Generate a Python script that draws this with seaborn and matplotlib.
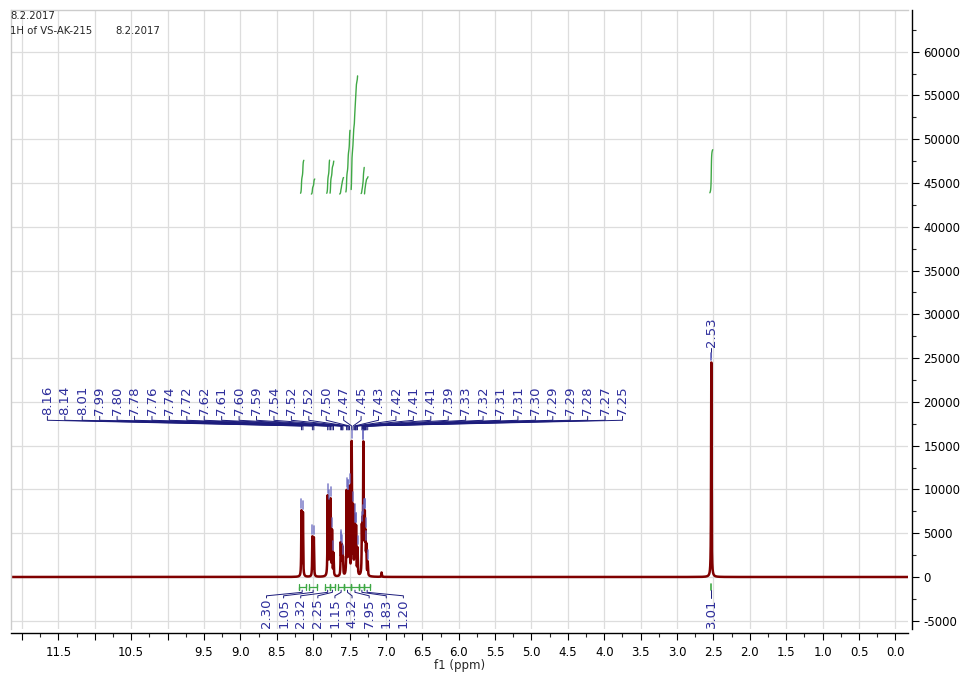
import numpy as np
import pandas as pd
import seaborn as sns
import matplotlib.pyplot as plt
from matplotlib.ticker import MultipleLocator, FuncFormatter

# picked peaks (ppm) and their approx heights
peak_ppm = [8.16, 8.14, 8.01, 7.99, 7.80, 7.78, 7.76, 7.74, 7.72,
            7.62, 7.61, 7.60, 7.59, 7.54, 7.52, 7.52, 7.50, 7.47, 7.45,
            7.43, 7.42, 7.41, 7.41, 7.39, 7.33, 7.32, 7.31, 7.31, 7.30,
            7.29, 7.29, 7.28, 7.27, 7.25]
peak_height = [7400, 7200, 4500, 4400, 9000, 8000, 8500, 5000, 2500,
               3500, 3000, 2800, 1800, 9500, 4500, 4500, 9800, 15000, 7500,
               6000, 4500, 2500, 2500, 3000, 5000, 4500, 7000, 7000, 5000,
               3000, 3000, 4000, 3000, 1500]
solvent_ppm = 2.53
solvent_height = 24500
extra_ppm = [7.06]
extra_height = [500]

# integration regions (ppm from, ppm to) and integral values
int_start = [8.20, 8.05, 7.83, 7.77, 7.66, 7.57, 7.485, 7.365, 7.295]
int_end = [8.10, 7.95, 7.77, 7.70, 7.57, 7.485, 7.365, 7.295, 7.22]
int_value = [2.30, 1.05, 2.32, 2.25, 1.15, 4.32, 7.95, 1.83, 1.20]
solv_int = (2.60, 2.46, 3.01)

blue = '#2e2e9c'
navy = '#1c1c7c'
green = '#3fa845'
red = '#800000'

sns.set_style("white")
plt.rcParams['font.family'] = ['DejaVu Sans']

# build the spectrum from lorentzian lines
ppm = np.arange(12.3, -0.4, -0.0005)
w = 0.0035


def lor(x, p, h, w=w):
    return h / (1 + ((x - p) / w) ** 2)


spec = np.zeros_like(ppm)
for p, h in zip(peak_ppm + extra_ppm + [solvent_ppm], peak_height + extra_height + [solvent_height]):
    spec += lor(ppm, p, h)

df = pd.DataFrame({'ppm': ppm, 'intensity': spec})

fig = plt.figure(figsize=(9.62, 6.76), dpi=100)
ax = fig.add_axes([11 / 962, 1 - 629 / 676, 897 / 962, 619 / 676])

sns.lineplot(data=df, x='ppm', y='intensity', color=red, lw=1.8, ax=ax,
             estimator=None, sort=False)

ax.set_xlim(12.15, -0.172)
ax.set_ylim(-5940, 64760)

# integral curves (only the rising part is drawn)
int_base = 43660
int_scale = 1782
for a, b, v in list(zip(int_start, int_end, int_value)) + [solv_int]:
    m = (ppm <= a) & (ppm >= b)
    cum = np.cumsum(spec[m])
    frac = cum / cum[-1]
    keep = (frac > 0.04) & (frac < 0.96)
    ax.plot(ppm[m][keep], frac[keep] * v * int_scale + int_base, color=green, lw=1.0)

# peak labels with fan lines
label_x = np.linspace(11.65, 3.75, len(peak_ppm))
for lx, p in zip(label_x, peak_ppm):
    ax.text(lx, 18450, f"{p:.2f}", rotation=90, ha='center', va='bottom',
            color=blue, fontsize=9.5)
    ax.plot([lx, lx, p, p], [18350, 17900, 17250, 16800], color=navy, lw=0.7)
    h = np.interp(p, ppm[::-1], spec[::-1])
    ax.plot([p, p], [h + 300, h + 1300], color='#6a6ac0', lw=1.2, alpha=0.8)

ax.text(solvent_ppm, 26300, "2.53", rotation=90, ha='center', va='bottom',
        color=blue, fontsize=9.5)
ax.plot([solvent_ppm, solvent_ppm], [26200, 25100], color=navy, lw=0.7)
ax.plot([solvent_ppm, solvent_ppm], [solvent_height + 300, solvent_height + 1100],
        color='#6a6ac0', lw=1.2)

# integral labels below the baseline
int_label_x = np.linspace(8.64, 6.76, len(int_value))
for a, b, v, lx in zip(int_start, int_end, int_value, int_label_x):
    c = (a + b) / 2
    ax.plot([a, a, a, b, b, b], [-800, -1500, -1150, -1150, -800, -1500],
            color=green, lw=0.9)
    ax.plot([c, c, lx, lx], [-1500, -1750, -2150, -2400], color=navy, lw=0.7)
    ax.text(lx, -2450, f"{v:.2f}", rotation=90, ha='center', va='top',
            color=blue, fontsize=9.5)

a, b, v = solv_int
ax.plot([solvent_ppm, solvent_ppm], [-800, -1500], color=green, lw=1.2)
ax.plot([solvent_ppm, solvent_ppm], [-1500, -2400], color=navy, lw=0.7)
ax.text(solvent_ppm, -2450, f"{v:.2f}", rotation=90, ha='center', va='top',
        color=blue, fontsize=9.5)

# axes / ticks
ax.xaxis.set_major_locator(MultipleLocator(0.5))
ax.xaxis.set_minor_locator(MultipleLocator(0.25))


def xfmt(v, pos):
    if round(v, 2) in (12.0, 11.0, 10.0):
        return ''
    return f"{abs(v):.1f}" if abs(v) < 1e-6 else f"{v:.1f}"


ax.xaxis.set_major_formatter(FuncFormatter(xfmt))
ax.yaxis.tick_right()
ax.yaxis.set_major_locator(MultipleLocator(5000))
ax.yaxis.set_minor_locator(MultipleLocator(2500))
ax.yaxis.set_major_formatter(FuncFormatter(lambda v, pos: f"{int(v)}"))
ax.tick_params(axis='both', which='major', length=5, width=0.8, labelsize=8.5,
               colors='black', direction='out')
ax.tick_params(axis='both', which='minor', length=3, width=0.8, direction='out')
ax.tick_params(axis='x', which='both', bottom=True, top=False, pad=4)
ax.tick_params(axis='y', which='both', right=True, left=False, pad=3)

ax.grid(which='major', color='#dddddd', lw=0.9)
ax.set_axisbelow(True)
for s in ['left', 'top']:
    ax.spines[s].set_color('#cccccc')
    ax.spines[s].set_linewidth(1)
for s in ['right', 'bottom']:
    ax.spines[s].set_color('black')
    ax.spines[s].set_linewidth(1)
    ax.spines[s].set_position(('outward', 3))

ax.set_xlabel("f1 (ppm)", fontsize=8.5, labelpad=0)
ax.set_ylabel("")

fig.text(10 / 962, 1 - 16 / 676, "8.2.2017", fontsize=7.3, va='center')
fig.text(10 / 962, 1 - 31 / 676, "1H of VS-AK-215", fontsize=7.3, va='center')
fig.text(115 / 962, 1 - 31 / 676, "8.2.2017", fontsize=7.3, va='center')

fig.savefig("out.png", dpi=100)
